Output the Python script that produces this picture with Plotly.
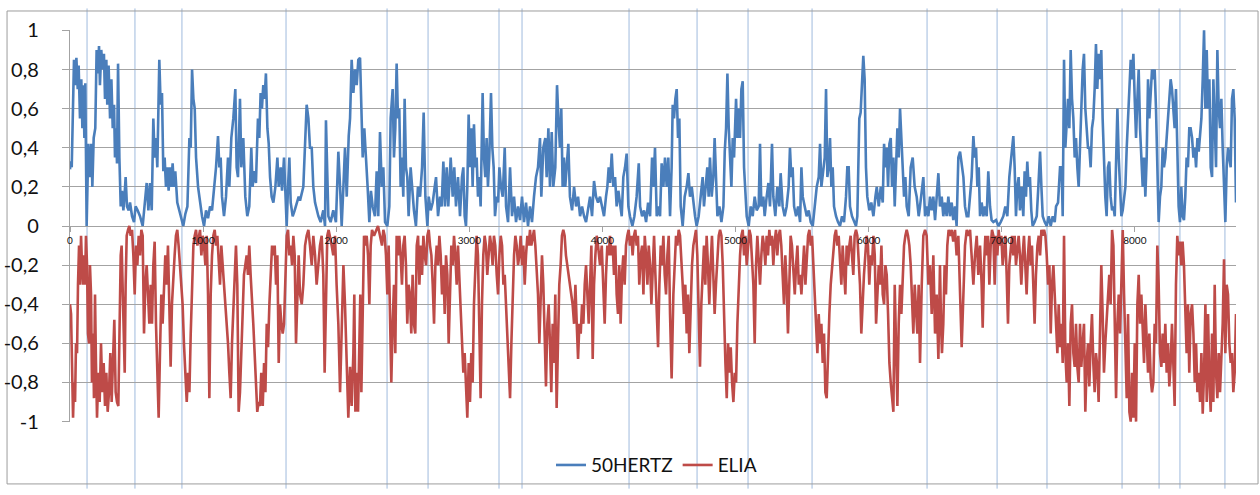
import plotly.graph_objects as go

# ---------------- data (hour of year, normalised value) ----------------
hertz_points = [
(0,.29),(5,.33),(13,.30),(30,.85),(40,.72),(48,.86),(58,.70),(65,.82),(75,.55),(85,.75),(93,.50),(100,.72),(108,.45),(115,.73),(125,0),(138,.42),(150,.25),(160,.42),(168,.2),(178,.45),(190,.5),(200,.9),(210,.78),(218,.92),(225,.72),(235,.9),(245,.8),(255,.88),(263,.65),(273,.85),(280,.62),(290,.82),(301,.55),(311,.75),(321,.5),(331,.62),(338,.35),(346,.5),(353,.32),(361,.83),(371,.35),(381,.1),(391,.18),(401,.08),(411,.17),(418,.25),(428,.1),(441,.08),(451,.12),(466,.05),(481,.02),(493,.1),(508,.08),(526,.05),(546,0),(561,.12),(576,.22),(589,.08),(601,.22),(614,.08),(626,.55),(636,.35),(646,.45),(656,.3),(671,.85),(681,.62),(691,.68),(701,.28),(711,.35),(721,.2),(731,.3),(741,.18),(751,.3),(761,.2),(771,.32),(781,.2),(791,.28),(806,.12),(821,.08),(836,.05),(851,0),(866,.06),(882,.1),(897,.45),(907,.4),(917,.8),(927,.65),(937,.6),(947,.35),(962,.2),(977,.12),(992,.05),(1007,0),(1022,.08),(1037,.04),(1052,.1),(1067,.08),(1082,.18),(1097,.3),(1112,.46),(1122,.3),(1132,.35),(1142,.15),(1157,.05),(1172,.15),(1187,.35),(1197,.2),(1212,.45),(1227,.55),(1242,.7),(1252,.3),(1262,.25),(1277,.65),(1287,.3),(1302,.45),(1317,.15),(1332,.05),(1347,.1),(1362,.4),(1372,.2),(1382,.28),(1397,.22),(1412,.55),(1422,.45),(1432,.68),(1442,.6),(1452,.72),(1462,.65),(1472,.78),(1483,.5),(1493,.42),(1503,.25),(1515,.15),(1528,.12),(1543,.2),(1558,.35),(1568,.2),(1583,.3),(1593,.18),(1608,.35),(1618,.15),(1628,0),(1638,.2),(1648,.35),(1658,.12),(1673,.05),(1688,.08),(1703,.12),(1718,.15),(1728,.13),
(1753,.2),(1778,.62),(1791,.55),(1803,.4),(1816,.4),(1828,.2),(1841,.12),(1866,.05),(1883,.02),(1903,.08),(1916,0),(1923,.54),(1941,.05),(1958,.02),(1978,.08),(1998,.02),(2016,.38),(2029,.2),(2041,0),(2054,.2),(2066,.4),(2079,.15),(2094,.46),(2104,.55),(2116,.85),(2129,.68),(2141,.8),(2154,.72),(2166,.85),(2179,.86),(2191,.55),(2199,.35),(2211,.5),(2224,.3),(2236,.2),(2249,.02),(2261,.18),(2274,.1),(2291,.05),(2304,.28),(2316,.05),(2329,.48),(2342,.2),(2354,.3),(2367,.02),(2384,0),(2399,.1),(2409,.55),(2424,.7),(2434,.35),(2444,.5),(2454,.83),(2464,.55),(2474,.6),(2484,.2),(2494,.35),(2504,.15),(2514,.65),(2524,.3),(2534,.25),(2544,.05),(2559,.3),(2569,.2),(2584,.08),(2599,0),(2614,.2),(2630,.15),(2645,.3),(2657,.58),(2670,.15),(2685,0),(2695,.15),(2710,.08),(2725,.12),(2740,.2),(2750,.25),(2765,.05),(2780,.15),(2792,.1),(2805,.33),(2817,.1),(2830,.3),(2842,.1),(2860,.35),(2875,.15),(2887,.3),(2900,.1),(2915,.25),(2930,.05),(2945,.25),(2955,.3),(2965,.05),(2975,0),(2985,.2),(2995,.57),(3005,.3),(3015,.5),(3025,.2),(3035,.52),(3045,.3),(3055,.35),(3065,.15),(3075,.25),(3085,.1),(3100,.68),(3110,.35),(3120,.25),(3130,.45),(3140,.2),(3150,.35),(3163,.68),(3173,.4),(3183,.3),(3193,.05),(3206,.15),(3216,.12),(3226,.3),(3238,.2),(3251,.15),(3266,.4),(3276,.1),(3291,.02),(3306,.3),(3321,.05),(3336,.15),(3351,.02),(3366,.1),(3381,.03),(3396,.15),(3411,.02),(3426,.12),(3441,0),(3456,.1),(3471,.02),(3486,.15),(3501,.25),(3516,.3),(3531,.45),(3541,.15),(3556,.4),(3571,.45),(3581,.25),(3594,.5),(3606,.2),(3619,.48),(3631,.2),(3646,.3),(3659,.72),(3669,.55),(3681,.4),(3691,.6),(3701,.2),(3711,.35),(3721,.2),(3731,.3),(3744,.42),(3756,.15),(3772,.08),(3787,.2),(3802,.1),(3817,.15),(3832,.05),(3847,.1),(3862,.05),(3877,.02),(3892,.08),(3907,.15),(3922,.05),(3937,.23),(3952,.15),(3967,.12),(3982,.15),
(3995,.1),(4012,.05),(4027,.15),(4037,.2),(4047,.3),(4057,.22),(4070,.37),(4082,.2),(4095,.25),(4107,.1),(4120,.18),(4132,.1),(4145,.05),(4157,.25),(4170,.3),(4182,.37),(4195,.1),(4207,.05),(4225,0),(4240,.05),(4257,.15),(4273,.32),(4283,.1),(4298,.05),(4313,.08),(4328,.02),(4343,.12),(4358,.05),(4373,.35),(4383,.2),(4395,.4),(4408,.05),(4420,.1),(4433,.05),(4445,.32),(4458,.2),(4470,.35),(4483,.2),(4495,.35),(4508,.05),(4520,.3),(4528,.62),(4538,.55),(4548,.65),(4558,.7),(4568,.45),(4578,.55),(4588,.1),(4603,0),(4618,.15),(4633,.2),(4646,.27),(4658,.15),(4671,.2),(4683,.12),(4696,.05),(4708,0),(4723,.05),(4738,.15),(4753,.25),(4763,.1),(4778,.2),(4788,.3),(4798,.15),(4808,.35),(4821,.15),(4833,.25),(4843,.45),(4853,.2),(4864,.05),(4879,.1),(4894,.02),(4909,.1),(4919,.38),(4929,.5),(4939,.78),(4949,.5),(4959,.3),(4969,.2),(4979,.45),(4989,.35),(5004,.65),(5014,.45),(5024,.6),(5034,.45),(5044,.7),(5054,.74),(5064,.3),(5074,.2),(5084,.05),(5099,0),(5114,.1),(5129,.05),(5144,.15),(5159,.08),(5174,.1),(5184,.42),(5194,.1),(5209,.15),(5219,.05),(5234,.15),(5247,.22),(5259,.1),(5274,.42),(5284,.15),(5299,.05),(5314,.2),(5329,.1),(5339,.27),(5354,.1),(5369,.05),(5384,.1),(5399,.2),(5409,.4),(5419,.25),(5429,.3),(5440,.1),(5455,.05),(5470,.1),(5485,.02),(5495,.3),(5505,.15),(5520,.1),(5535,.05),(5550,.08),(5565,.02),(5580,0),(5595,.1),(5610,.2),(5625,.25),(5635,.42),(5645,.2),(5660,.3),(5670,.35),(5680,.7),(5690,.25),(5700,.3),(5710,.45),(5720,.2),(5730,.3),(5740,.1),(5755,.05),(5770,.02),(5785,0),(5800,.05),(5815,.02),(5830,.15),(5840,.3),(5850,.3),(5860,.1),(5875,.05),(5890,.02),(5905,0),(5915,.05),(5930,.55),(5940,.58),(5950,.72),(5960,.87),(5970,.75),(5980,.3),(5990,.15),(6005,.08),(6020,.12),(6036,.05),(6051,.15),(6061,.2),(6076,.1),(6091,.2),(6106,.12),(6116,.42),(6126,.3),(6136,.4),(6146,.2),(6156,.42),(6166,.45),(6176,.2),(6186,.35),(6196,.1),(6206,.3),(6216,.5),(6226,.35),(6236,.6),(6246,.45),(6256,.25),(6266,.15),(6276,.25),(6286,.1),(6301,.05),(6316,.3),(6331,.35),(6346,.2),(6361,.15),(6376,.05),
(6386,.1),(6399,.2),(6411,.25),(6424,.05),(6436,.1),(6449,.05),(6461,.15),(6474,.08),(6486,.15),(6499,.03),(6511,.15),(6524,.27),(6536,.1),(6549,.15),(6561,.05),(6574,.12),(6586,.05),(6599,.15),(6611,.05),(6624,.12),(6636,.03),(6649,.1),(6661,0),(6674,.35),(6687,.38),(6699,.3),(6712,.25),(6724,.1),(6737,.05),(6749,.05),(6762,.15),(6774,.25),(6787,.46),(6797,.35),(6807,.4),(6817,.2),(6827,.3),(6837,.05),(6849,.12),(6862,.05),(6874,.1),(6887,.05),(6899,.28),(6912,.1),(6924,.03),(6937,.02),(6957,.03),(6975,0),(6992,.02),(7012,.05),(7027,.1),(7042,.05),(7057,.25),(7072,.35),(7087,.46),(7097,.3),(7107,.05),(7117,.2),(7127,.25),(7137,.08),(7150,.2),(7162,.05),(7172,.28),(7182,.15),(7192,.33),(7202,.2),(7212,.25),(7222,.08),(7232,0),(7247,.02),(7263,.05),(7275,.2),(7288,.38),(7298,.2),(7308,.05),(7323,.02),(7338,0),(7353,.05),(7368,0),(7383,.05),(7398,.02),(7408,.1),(7423,.12),(7438,.3),(7450,.3),(7458,.05),(7468,.85),(7478,.4),(7488,.55),(7498,.65),(7508,.5),(7518,.9),(7528,.65),(7538,.55),(7548,.35),(7558,.45),(7568,.3),(7578,.2),(7588,.4),(7598,.6),(7608,.8),(7618,.88),(7628,.6),(7638,.5),(7648,.4),(7658,.4),(7668,.3),(7678,.5),(7688,.55),(7698,.7),(7708,.93),(7718,.7),(7728,.88),(7738,.75),(7748,.9),(7758,.55),(7768,.3),(7778,.15),(7788,.05),(7798,.3),(7808,.33),(7818,.15),(7829,.08),(7839,.1),(7849,.05),(7859,.35),(7869,.6),(7879,.35),(7889,.15),(7899,.05),(7909,.08),(7919,.15),(7929,.2),(7939,.4),(7949,.55),(7959,.7),(7969,.85),(7979,.75),(7989,.88),(7999,.65),(8009,.45),(8019,.65),(8029,.8),(8039,.5),(8049,.35),(8059,.2),(8069,.35),(8079,.15),(8089,.35),(8099,.75),(8109,.55),(8119,.7),(8129,.8),(8139,.75),(8149,.8),(8159,.6),(8169,.2),(8179,.02),(8189,.15),(8199,.2),(8209,.4),(8219,.3),(8229,.35),(8239,.45),(8249,.6),(8259,.65),(8269,.75),(8279,.7),(8289,.6),(8299,.5),(8309,.7),(8319,.35),(8329,.1),(8339,.02),(8349,.2),(8359,.05),(8369,.03),(8379,.15),(8389,.35),(8399,.3),(8409,.5),(8419,.5),(8430,.45),(8440,.35),(8450,.4),(8460,.3),(8470,.45),(8480,.38),(8490,.45),(8500,.55),(8510,.75),(8520,1.0),(8530,.6),(8540,.9),(8550,.6),(8560,.75),(8570,.3),(8580,.25),(8590,.75),(8600,.55),(8610,.3),(8620,.9),(8630,.6),(8640,.5),(8650,.65),(8660,.4),(8670,.15),(8680,.02),(8690,.3),(8700,.4),(8710,.35),(8720,.3),(8730,.65),(8740,.7),(8750,.55),(8760,.12),
]

elia_points = [
(0,-.4),(8,-.45),(15,-.7),(23,-.98),(30,-.8),(38,-.9),(45,-.6),(53,-.65),(60,-.3),(68,-.1),(75,-.3),(83,-.05),(90,-.2),(98,-.3),(105,-.15),(113,-.3),(120,-.05),(128,-.2),(135,-.55),(143,-.6),(150,-.2),(158,-.35),(165,-.8),(173,-.55),(180,-.88),(188,-.35),(195,-.7),(203,-.98),(213,-.75),(223,-.9),(233,-.6),(243,-.85),(253,-.7),(263,-.92),(273,-.75),(283,-.95),(293,-.85),(303,-.65),(313,-.9),(323,-.7),(333,-.48),(343,-.85),(353,-.9),(363,-.92),(373,-.4),(381,-.15),(388,-.1),(396,-.3),(403,-.5),(411,-.75),(418,-.3),(426,-.05),(436,-.02),(446,0),(456,-.05),(466,-.02),(476,-.15),(486,-.35),(496,-.1),(506,-.2),(516,-.05),(526,-.15),(536,-.02),(546,-.05),(556,-.55),(566,-.3),(576,-.2),(586,-.35),(596,-.5),(606,-.3),(616,-.5),(626,-.2),(636,-.08),(646,-.5),(656,-.75),(666,-.98),(676,-.65),(686,-.35),(696,-.5),(706,-.3),(716,-.15),(726,-.3),(736,-.1),(746,-.4),(756,-.72),(766,-.4),(776,-.25),(786,-.15),(796,-.05),(806,-.02),(816,-.1),(826,-.2),(836,-.25),(846,-.4),(856,-.6),(867,-.8),(877,-.9),(887,-.75),(897,-.85),(907,-.55),(917,-.3),(927,-.1),(937,-.05),(947,-.02),(957,-.1),(967,-.05),(977,-.02),(987,-.15),(997,-.05),(1007,-.1),(1017,-.2),(1027,-.05),(1037,-.35),(1047,-.88),(1057,-.35),(1067,-.15),(1077,-.05),(1087,-.02),(1097,-.1),(1107,-.05),(1117,-.15),(1127,-.3),(1137,-.1),(1147,-.2),(1157,-.25),(1167,-.35),(1177,-.5),(1187,-.6),(1197,-.75),(1207,-.88),(1217,-.6),(1227,-.4),(1237,-.2),(1247,-.1),(1257,-.3),(1267,-.95),(1277,-.85),(1287,-.6),(1297,-.45),(1307,-.25),(1317,-.2),(1327,-.15),(1337,-.25),(1347,-.1),(1357,-.25),(1367,-.35),(1377,-.5),(1387,-.65),(1397,-.8),(1407,-.95),(1417,-.9),(1427,-.92),(1437,-.75),(1448,-.92),(1458,-.7),(1468,-.85),(1478,-.5),(1488,-.62),(1498,-.4),(1508,-.2),(1518,-.1),(1528,-.15),(1538,-.1),(1548,-.3),(1558,-.15),(1568,-.7),(1578,-.4),(1588,-.5),(1598,-.55),(1608,-.5),(1618,-.2),(1628,-.05),(1638,-.02),(1648,-.15),(1658,-.1),(1668,-.2),(1678,-.05),(1688,-.15),(1698,-.6),(1708,-.3),(1718,-.15),(1728,-.35),
(1741,-.4),(1753,-.3),(1766,-.1),(1778,-.05),(1791,-.02),(1803,-.1),(1816,-.2),(1828,-.05),(1841,-.15),(1853,-.3),(1866,-.2),(1878,-.1),(1891,-.05),(1903,-.25),(1913,-.75),(1923,-.3),(1933,-.05),(1943,-.02),(1953,-.05),(1966,-.1),(1978,-.15),(1991,-.05),(2003,-.3),(2016,-.5),(2029,-.85),(2041,-.5),(2054,-.2),(2066,-.4),(2079,-.75),(2091,-.98),(2104,-.72),(2116,-.92),(2129,-.65),(2136,-.35),(2144,-.95),(2154,-.75),(2164,-.95),(2174,-.6),(2181,-.35),(2189,-.85),(2199,-.3),(2209,-.05),(2219,-.1),(2229,-.05),(2239,-.15),(2249,-.4),(2259,-.1),(2269,-.02),(2284,-.05),(2299,-.02),(2314,0),(2329,-.05),(2344,-.1),(2354,-.02),(2364,-.05),(2374,-.15),(2384,-.35),(2394,-.1),(2404,-.4),(2414,-.8),(2424,-.5),(2434,-.3),(2444,-.65),(2454,-.05),(2464,-.15),(2474,-.05),(2484,-.15),(2494,-.3),(2504,-.1),(2514,-.05),(2524,-.2),(2534,-.5),(2544,-.3),(2554,-.35),(2564,-.55),(2574,-.25),(2584,-.5),(2594,-.55),(2605,-.1),(2615,-.05),(2625,-.3),(2635,-.1),(2645,-.25),(2655,-.05),(2665,-.15),(2675,-.2),(2685,-.05),(2695,-.02),(2705,-.1),(2715,-.15),(2725,-.3),(2735,-.5),(2745,-.2),(2755,-.1),(2765,-.2),(2775,-.05),(2785,-.15),(2795,-.35),(2805,-.2),(2815,-.45),(2825,-.15),(2835,-.25),(2845,-.6),(2855,-.3),(2865,-.1),(2875,-.2),(2885,-.05),(2895,-.15),(2905,-.3),(2915,-.1),(2925,-.25),(2935,-.45),(2945,-.6),(2955,-.75),(2965,-.65),(2975,-.85),(2985,-.98),(2995,-.7),(3005,-.9),(3015,-.65),(3025,-.8),(3035,-.4),(3045,-.2),(3055,-.05),(3065,-.15),(3075,-.5),(3085,-.88),(3095,-.4),(3105,-.15),(3115,-.05),(3125,-.1),(3135,-.25),(3145,-.15),(3155,-.05),(3165,-.1),(3175,-.2),(3185,-.05),(3195,-.1),(3206,-.25),(3216,-.35),(3226,-.15),(3236,-.05),(3246,-.1),(3256,-.3),(3266,-.25),(3276,-.4),(3286,-.6),(3296,-.75),(3306,-.88),(3316,-.6),(3326,-.3),(3336,-.15),(3346,-.05),(3356,-.1),(3366,-.2),(3376,-.15),(3386,-.05),(3396,-.2),(3406,-.1),(3416,-.3),(3426,-.15),(3436,-.05),(3446,-.1),(3456,-.02),(3466,-.1),(3476,-.05),(3486,-.02),(3496,-.1),(3506,-.2),(3516,-.35),(3526,-.6),(3536,-.3),(3546,-.15),(3556,-.3),(3566,-.55),(3576,-.82),(3586,-.5),(3596,-.4),(3606,-.6),(3616,-.85),(3626,-.5),(3636,-.7),(3646,-.35),(3656,-.93),(3666,-.6),(3676,-.3),(3686,-.2),(3696,-.05),(3706,-.02),(3716,-.05),(3726,-.15),(3736,-.2),(3746,-.25),(3756,-.3),(3766,-.35),(3776,-.4),(3787,-.5),(3797,-.3),(3807,-.5),(3817,-.68),(3827,-.5),(3837,-.55),(3847,-.4),(3857,-.5),(3867,-.3),(3877,-.2),(3887,-.35),(3897,-.5),(3907,-.3),(3917,-.1),(3927,-.68),(3937,-.3),(3947,-.15),(3957,-.05),(3967,-.1),(3977,-.2),
(3982,-.2),(3995,-.1),(4007,-.3),(4017,-.5),(4027,-.25),(4037,-.1),(4047,-.15),(4057,-.05),(4067,-.15),(4077,-.1),(4087,-.25),(4097,-.1),(4107,-.35),(4117,-.45),(4127,-.2),(4137,-.5),(4147,-.25),(4157,-.15),(4167,-.3),(4177,-.1),(4187,-.05),(4197,-.02),(4207,-.1),(4217,-.05),(4227,-.15),(4237,-.05),(4247,-.02),(4257,-.1),(4267,-.05),(4277,-.3),(4288,-.15),(4298,-.1),(4308,-.35),(4318,-.05),(4328,-.15),(4338,-.3),(4348,-.1),(4358,-.2),(4368,-.4),(4378,-.2),(4388,-.05),(4398,-.25),(4408,-.5),(4418,-.62),(4428,-.3),(4438,-.1),(4448,-.2),(4458,-.05),(4468,-.25),(4478,-.35),(4488,-.15),(4498,-.05),(4508,-.45),(4520,-.78),(4533,-.35),(4543,-.15),(4553,-.05),(4563,-.1),(4573,-.02),(4583,-.05),(4593,-.15),(4603,-.3),(4613,-.45),(4623,-.3),(4633,-.55),(4643,-.35),(4653,-.65),(4663,-.4),(4673,-.2),(4683,-.1),(4693,-.05),(4703,-.02),(4713,-.15),(4723,-.5),(4733,-.72),(4743,-.4),(4753,-.2),(4763,-.1),(4773,-.3),(4783,-.05),(4793,-.2),(4803,-.4),(4813,-.2),(4823,-.05),(4833,-.25),(4843,-.45),(4853,-.3),(4864,-.15),(4874,-.05),(4884,-.02),(4894,-.05),(4904,-.2),(4914,-.5),(4924,-.7),(4934,-.88),(4944,-.6),(4954,-.75),(4964,-.62),(4974,-.8),(4984,-.9),(4994,-.75),(5004,-.8),(5014,-.5),(5024,-.3),(5034,-.15),(5044,-.05),(5054,-.02),(5064,-.15),(5074,-.05),(5084,-.2),(5094,-.1),(5104,-.02),(5114,-.05),(5124,-.15),(5134,-.3),(5144,-.6),(5154,-.2),(5164,-.05),(5174,-.15),(5184,-.3),(5194,-.15),(5204,-.05),(5214,-.1),(5224,-.2),(5234,-.05),(5244,-.15),(5254,-.02),(5264,-.1),(5274,-.05),(5284,-.2),(5294,-.08),(5304,-.02),(5314,-.15),(5324,-.05),(5334,-.02),(5344,-.1),(5354,-.25),(5364,-.4),(5374,-.15),(5384,-.3),(5394,-.55),(5404,-.3),(5414,-.05),(5424,-.1),(5434,-.2),(5445,-.35),(5455,-.2),(5465,-.1),(5475,-.3),(5485,-.25),(5495,-.35),(5505,-.2),(5515,-.1),(5525,-.3),(5535,-.15),(5545,-.05),(5555,-.02),(5565,-.1),(5575,-.05),(5585,-.2),(5595,-.35),(5605,-.5),(5615,-.65),(5625,-.45),(5635,-.6),(5645,-.5),(5655,-.7),(5665,-.55),(5675,-.85),(5685,-.88),(5695,-.6),(5705,-.45),(5715,-.3),(5725,-.2),(5735,-.1),(5745,-.05),(5755,-.02),(5765,-.1),(5775,-.05),(5785,-.15),(5795,-.3),(5805,-.1),(5815,-.2),(5825,-.35),(5835,-.1),(5845,-.2),(5855,-.1),(5865,-.05),(5875,-.15),(5885,-.25),(5895,-.05),(5905,-.02),(5915,-.05),(5925,-.15),(5935,-.3),(5945,-.55),(5955,-.35),(5965,-.25),(5975,-.15),(5985,-.05),(5995,-.1),(6005,-.3),(6015,-.15),(6025,-.2),(6036,-.05),(6046,-.15),(6056,-.5),(6066,-.3),(6076,-.2),(6086,-.3),(6096,-.1),(6106,-.35),(6116,-.4),(6126,-.2),(6136,-.25),(6146,-.45),(6156,-.7),(6166,-.8),(6176,-.9),(6186,-.95),(6196,-.3),(6206,-.7),(6216,-.92),(6226,-.5),(6236,-.3),(6246,-.45),(6256,-.25),(6266,-.1),(6276,-.05),(6286,-.02),(6296,-.05),(6306,-.1),(6316,-.2),(6326,-.4),(6336,-.55),(6346,-.3),(6356,-.45),(6366,-.55),(6376,-.3),
(6386,-.7),(6399,-.3),(6411,-.05),(6424,-.02),(6436,-.05),(6449,-.3),(6461,-.2),(6474,-.45),(6486,-.15),(6499,-.55),(6511,-.35),(6524,-.68),(6536,-.2),(6544,-.5),(6551,-.65),(6561,-.5),(6571,-.2),(6581,-.35),(6591,-.1),(6601,-.02),(6611,-.05),(6624,-.02),(6636,-.08),(6649,-.02),(6661,-.15),(6674,-.05),(6687,-.3),(6699,-.62),(6712,-.35),(6724,-.1),(6737,-.02),(6749,-.05),(6762,-.02),(6774,-.15),(6787,-.3),(6799,-.15),(6812,-.05),(6824,-.25),(6837,-.1),(6849,-.3),(6857,-.52),(6867,-.2),(6877,-.05),(6887,-.15),(6897,-.05),(6907,-.3),(6917,-.1),(6927,-.02),(6937,-.05),(6947,-.3),(6957,-.05),(6967,-.15),(6977,-.02),(6987,-.1),(6997,-.05),(7007,-.2),(7017,-.1),(7027,-.05),(7037,-.25),(7047,-.5),(7057,-.2),(7067,-.1),(7077,-.05),(7087,-.15),(7097,-.05),(7107,-.2),(7117,-.1),(7127,-.05),(7137,-.15),(7147,-.3),(7157,-.15),(7167,-.05),(7177,-.2),(7187,-.35),(7197,-.15),(7207,-.05),(7217,-.2),(7227,-.1),(7237,-.3),(7247,-.5),(7257,-.25),(7268,-.1),(7278,-.05),(7288,-.15),(7298,-.02),(7308,-.05),(7318,-.02),(7328,-.05),(7338,-.15),(7348,-.3),(7358,-.2),(7368,-.55),(7378,-.3),(7388,-.2),(7398,-.35),(7408,-.55),(7418,-.65),(7428,-.4),(7438,-.62),(7448,-.5),(7458,-.7),(7468,-.05),(7478,-.65),(7488,-.8),(7498,-.6),(7508,-.92),(7518,-.5),(7528,-.4),(7538,-.65),(7548,-.72),(7558,-.5),(7568,-.72),(7578,-.8),(7588,-.5),(7598,-.72),(7608,-.6),(7618,-.5),(7628,-.95),(7638,-.7),(7648,-.6),(7658,-.82),(7668,-.6),(7678,-.45),(7688,-.7),(7698,-.85),(7708,-.65),(7718,-.72),(7728,-.9),(7738,-.6),(7748,-.2),(7758,-.45),(7768,-.75),(7778,-.6),(7788,-.5),(7798,-.35),(7808,-.25),(7818,-.4),(7829,-.02),(7839,-.1),(7849,-.5),(7859,-.88),(7869,-.5),(7879,-.35),(7889,-.55),(7899,-.2),(7909,-.02),(7919,-.35),(7929,-.7),(7939,-.88),(7949,-.45),(7959,-.95),(7969,-1.0),(7979,-.75),(7989,-.98),(7999,-.6),(8009,-1.0),(8019,-.4),(8029,-.25),(8039,-.5),(8049,-.35),(8059,-.55),(8069,-.7),(8079,-.4),(8089,-.55),(8099,-.75),(8109,-.55),(8119,-.78),(8129,-.85),(8139,-.8),(8149,-.5),(8159,-.6),(8169,-.1),(8179,-.3),(8189,-.65),(8199,-.72),(8209,-.55),(8219,-.7),(8229,-.5),(8239,-.75),(8249,-.6),(8259,-.82),(8269,-.7),(8279,-.5),(8289,-.7),(8299,-.92),(8309,-.3),(8319,-.05),(8329,-.15),(8339,-.08),(8349,-.2),(8359,-.08),(8369,-.2),(8379,-.45),(8389,-.65),(8399,-.4),(8409,-.75),(8419,-.45),(8430,-.4),(8440,-.55),(8450,-.8),(8460,-.6),(8470,-.85),(8480,-.75),(8490,-.9),(8500,-.65),(8510,-.96),(8520,-.75),(8530,-.4),(8540,-.9),(8550,-.45),(8560,-.8),(8570,-.95),(8580,-.55),(8590,-.9),(8600,-.3),(8610,-.75),(8620,-.88),(8630,-.65),(8640,-.85),(8650,-.7),(8660,-.5),(8670,-.17),(8680,-.65),(8690,-.3),(8700,-.35),(8710,-.6),(8720,-.7),(8730,-.65),(8740,-.85),(8750,-.75),(8760,-.45),
]

hertz_hours = [p[0] for p in hertz_points]
hertz_values = [p[1] for p in hertz_points]
elia_hours = [p[0] for p in elia_points]
elia_values = [p[1] for p in elia_points]

series_names = ["50HERTZ", "ELIA"]
series_colors = ["#4A7EBB", "#BE4B48"]

x_tick_values = [0, 1000, 2000, 3000, 4000, 5000, 6000, 7000, 8000]
x_tick_labels = ["0", "1000", "2000", "3000", "4000", "5000", "6000", "7000", "8000"]
y_tick_values = [-1, -0.8, -0.6, -0.4, -0.2, 0, 0.2, 0.4, 0.6, 0.8, 1]
y_tick_labels = ["-1", "-0,8", "-0,6", "-0,4", "-0,2", "0", "0,2", "0,4", "0,6", "0,8", "1"]

# hours marked with thin vertical lines in the original picture
marker_hours = [128, 488, 841, 1623, 2382, 2690, 3223, 3396, 4200, 4711, 5094,
                5575, 6439, 6965, 7340, 7904, 8182, 8339, 8677]

# ---------------- figure ----------------
fig = go.Figure()
fig.add_trace(go.Scatter(x=hertz_hours, y=hertz_values, mode="lines",
                         name=series_names[0],
                         line=dict(color=series_colors[0], width=2.6),
                         hoverinfo="skip"))
fig.add_trace(go.Scatter(x=elia_hours, y=elia_values, mode="lines",
                         name=series_names[1],
                         line=dict(color=series_colors[1], width=2.6),
                         hoverinfo="skip"))

grid = "#A3A3A3"
shapes = []
for h in marker_hours:
    shapes.append(dict(type="line", xref="x", yref="paper", x0=h, x1=h,
                       y0=-0.17, y1=1.055, layer="between",
                       line=dict(color="#9FBADD", width=1)))
# outer chart border
shapes.append(dict(type="rect", xref="paper", yref="paper",
                   x0=-0.054, x1=1.0189, y0=-0.158, y1=1.0485,
                   line=dict(color="#9C9C9C", width=1), layer="below"))

fig.update_layout(
    width=1260, height=495,
    margin=dict(l=70, r=24, t=30, b=73, autoexpand=False),
    paper_bgcolor="white", plot_bgcolor="rgba(0,0,0,0)",
    font=dict(family="Lato, 'Open Sans', sans-serif", color="#111111"),
    showlegend=True,
    legend=dict(orientation="h", x=0.503, xanchor="center", y=-0.11,
                yanchor="middle", font=dict(size=19, color="#111111"),
                bgcolor="rgba(0,0,0,0)", itemwidth=30),
    shapes=shapes,
    xaxis=dict(range=[0, 8760], anchor="free", position=0.5, automargin=False,
               showgrid=False, zeroline=False, showline=False,
               tickvals=x_tick_values, ticktext=x_tick_labels,
               ticks="outside", ticklen=5, tickcolor=grid,
               tickfont=dict(size=10, color="#111111")),
    yaxis=dict(range=[-1.002, 1.002], automargin=False, showgrid=True,
               gridcolor=grid, gridwidth=1.3, zeroline=False, showline=True,
               linecolor=grid, linewidth=1.3, tickvals=y_tick_values,
               ticktext=y_tick_labels, ticks="outside", ticklen=7,
               tickcolor=grid, tickwidth=1.3, ticklabelstandoff=19,
               tickfont=dict(size=20, color="#111111")),
)

fig.write_html("out.html")
